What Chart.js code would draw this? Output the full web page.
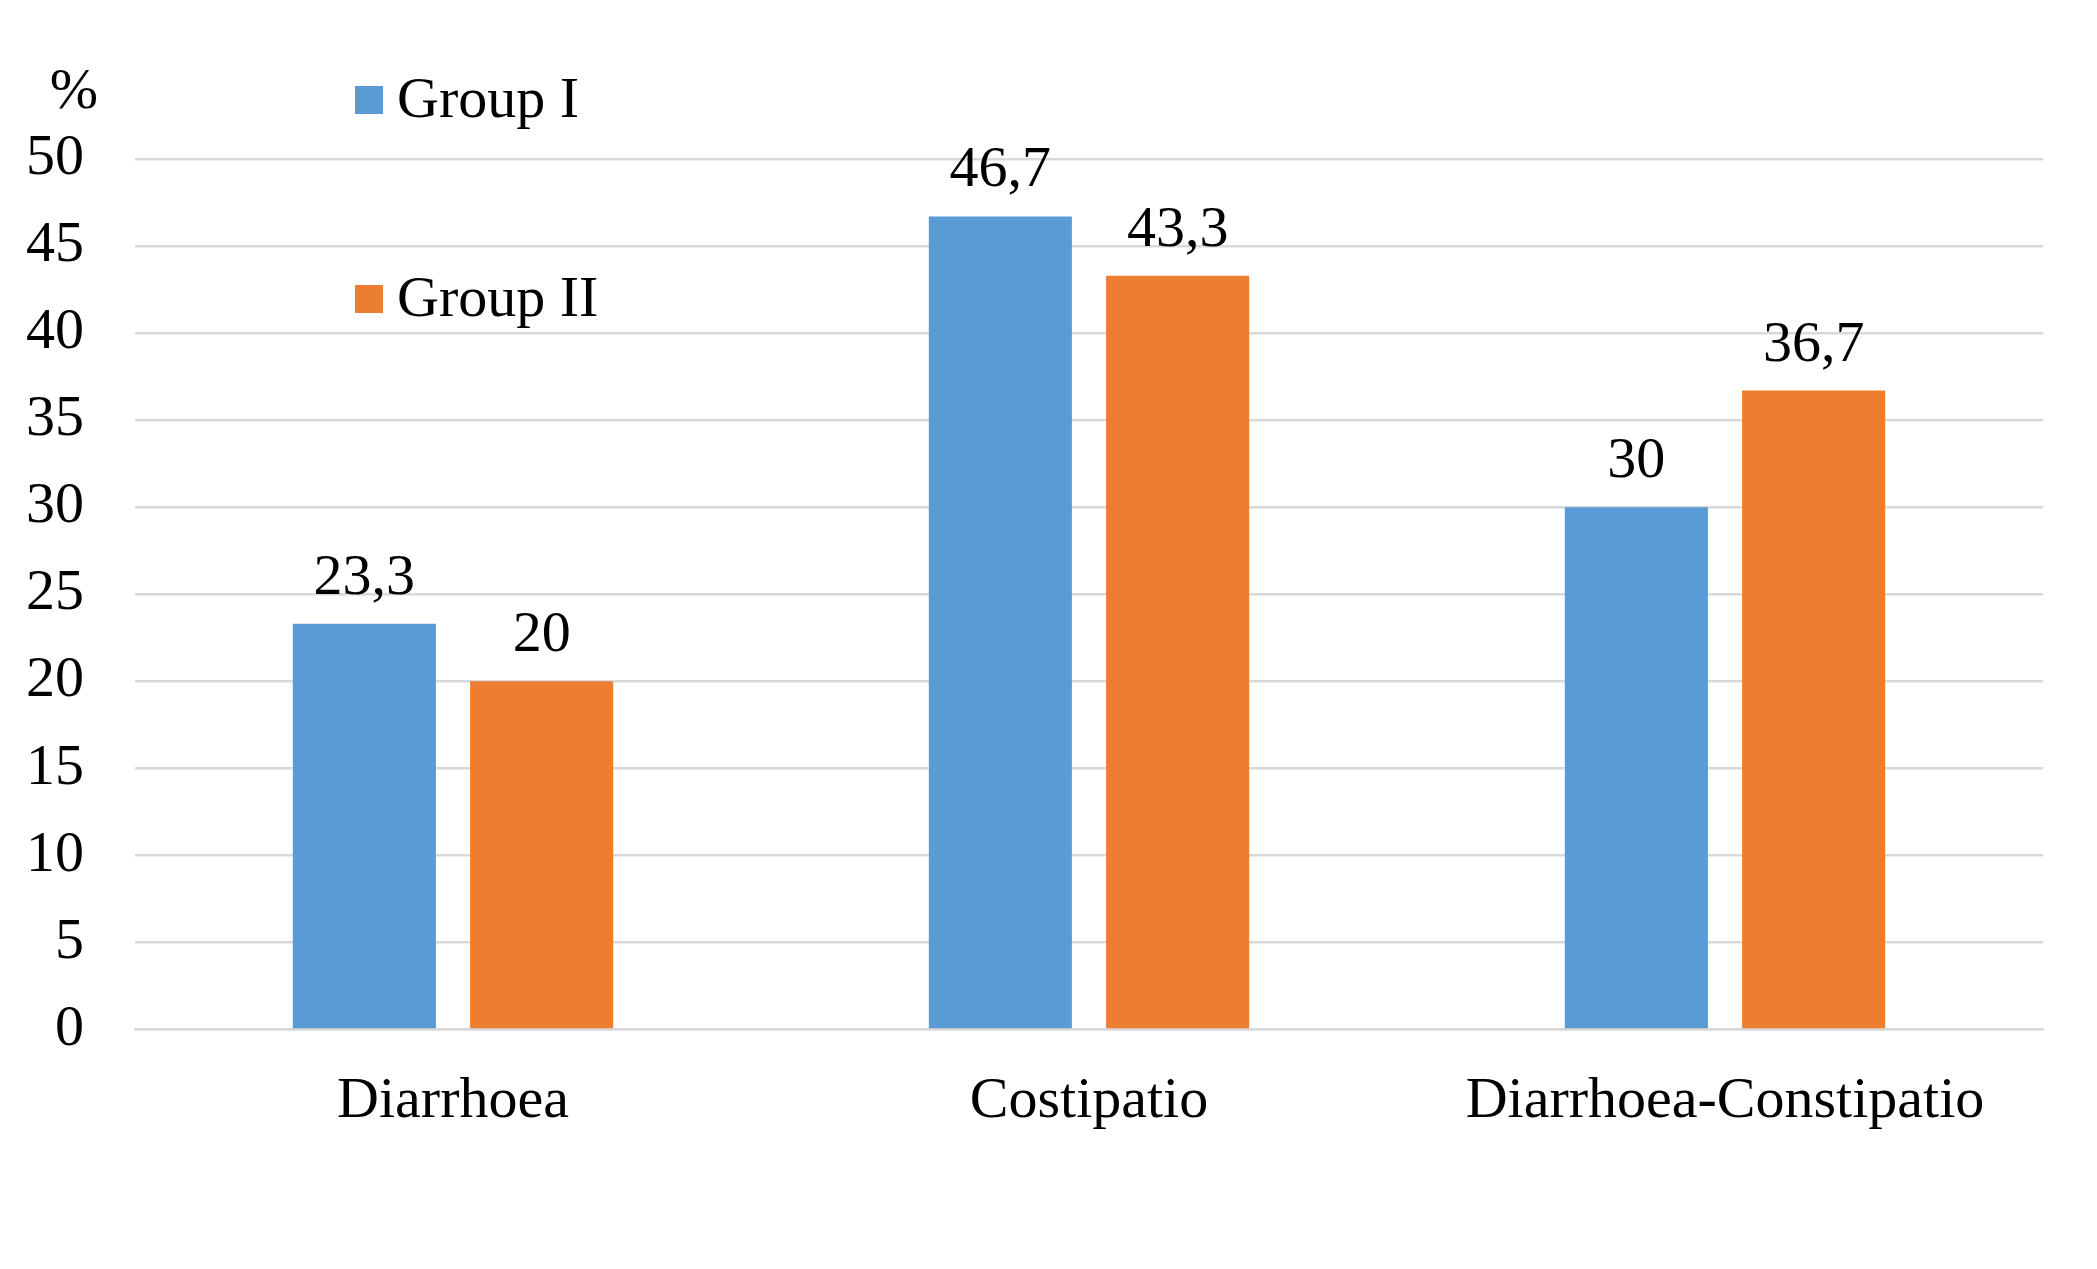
<!DOCTYPE html>
<html>
<head>
<meta charset="utf-8">
<script src="https://cdn.jsdelivr.net/npm/chart.js@4.4.0/dist/chart.umd.min.js"></script>
<style>
html,body{margin:0;padding:0;background:#fff;}
#wrap{width:2097px;height:1269px;position:relative;}
</style>
</head>
<body>
<div id="wrap"><canvas id="c"></canvas></div>
<script>
const categories = ["Diarrhoea", "Costipatio", "Diarrhoea-Constipatio"];
const groupI = [23.3, 46.7, 30];
const groupII = [20, 43.3, 36.7];
const seriesNames = ["Group I", "Group II"];
const yTicks = [0, 5, 10, 15, 20, 25, 30, 35, 40, 45, 50];

const FONT = "'Liberation Serif', 'Times New Roman', serif";
const FS = 58;

const overlay = {
  id: 'overlay',
  afterDatasetsDraw(chart) {
    const ctx = chart.ctx;
    ctx.save();
    ctx.fillStyle = '#000';
    ctx.font = FS + 'px ' + FONT;
    ctx.textAlign = 'center';
    ctx.textBaseline = 'alphabetic';
    chart.data.datasets.forEach((ds, i) => {
      const meta = chart.getDatasetMeta(i);
      meta.data.forEach((bar, j) => {
        const txt = String(ds.data[j]).replace('.', ',');
        ctx.fillText(txt, bar.x, bar.y - 30);
      });
    });
    // "%" label
    ctx.textAlign = 'center';
    ctx.fillText('%', 74, 108);
    // legend
    const legY = [100, 299];
    chart.data.datasets.forEach((ds, i) => {
      ctx.fillStyle = ds.backgroundColor;
      ctx.fillRect(355, legY[i] - 14, 28, 28);
      ctx.fillStyle = '#000';
      ctx.textAlign = 'left';
      ctx.textBaseline = 'middle';
      ctx.fillText(ds.label, 397, legY[i] + 2);
    });
    ctx.restore();
  }
};

new Chart(document.getElementById('c'), {
  type: 'bar',
  data: {
    labels: categories,
    datasets: [
      { label: seriesNames[0], data: groupI, backgroundColor: '#5B9BD5', categoryPercentage: 0.5575, barPercentage: 0.807 },
      { label: seriesNames[1], data: groupII, backgroundColor: '#ED7D31', categoryPercentage: 0.5575, barPercentage: 0.807 }
    ]
  },
  options: {
    responsive: true,
    maintainAspectRatio: false,
    animation: false,
    devicePixelRatio: 1,
    layout: { padding: { top: 159, right: 54, bottom: 102, left: 0 } },
    plugins: { legend: { display: false }, tooltip: { enabled: false } },
    scales: {
      x: {
        grid: { display: false },
        border: { color: '#D9D9D9', width: 2.5 },
        ticks: { color: '#000', font: { family: FONT, size: FS }, padding: 30, maxRotation: 0 }
      },
      y: {
        min: 0, max: 50,
        afterFit(scale) { scale.width = 135; },
        afterBuildTicks(scale) { scale.ticks = yTicks.map(v => ({ value: v })); },
        grid: { color: '#D9D9D9', lineWidth: 2.5, drawTicks: false },
        border: { display: false },
        ticks: { color: '#000', font: { family: FONT, size: FS }, padding: 51 }
      }
    }
  },
  plugins: [overlay]
});
</script>
</body>
</html>
